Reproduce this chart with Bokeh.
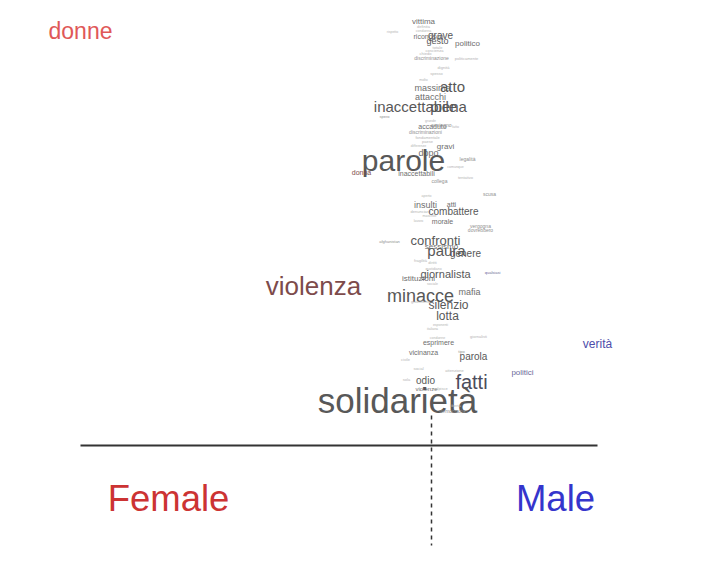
from bokeh.plotting import figure
from bokeh.models import ColumnDataSource, Range1d
from bokeh.core.properties import value
from bokeh.embed import file_html
from bokeh.resources import INLINE

# word, gender score (x), frequency position (y), font size (px), tone
words = ["vittima", "definita", "condanna", "rispetto", "riconosco", "grave", "gesto", "totale",
         "politico", "coscienza", "chiedo", "discriminazione", "politicamente", "dignità", "spesso",
         "molto", "massima", "atto", "attacchi", "inaccettabile", "piena", "spero", "grande",
         "accaduto", "sostegno", "discriminazioni", "fatto", "fondamentale", "paese", "differenze",
         "gravi", "dopo", "parole", "legalità", "comunque", "donna", "inaccettabili", "collega",
         "tentativo", "aperto", "scusa", "insulti", "atti", "denunciare", "combattere", "maschile",
         "lavoro", "morale", "vergogna", "dovrebbero", "confronti", "afghanistan", "sessismo",
         "paura", "genere", "fragilità", "diritti", "quotidiano", "giornalista", "qualsiasi",
         "istituzioni", "sociale", "mafia", "minacce", "gravissime", "silenzio", "lotta",
         "esponenti", "italiana", "giornalisti", "condanne", "esprimere", "vicinanza", "tipo",
         "parola", "civile", "social", "attenzione", "politici", "sola", "odio", "fatti",
         "violenze", "colpisce", "solidarietà", "democrazia", "libertà", "violenza", "verità",
         "donne"]
x_score = [-0.08, -0.08, -0.08, -0.39, -0.03, 0.09, 0.06, 0.06,
           0.36, 0.03, -0.06, 0.00, 0.35, 0.12, 0.05,
           -0.08, 0.01, 0.21, -0.01, -0.16, 0.17, -0.47, -0.01,
           0.01, 0.10, -0.06, 0.24, -0.04, -0.04, -0.13,
           0.14, -0.03, -0.28, 0.36, 0.24, -0.70, -0.15, 0.08,
           0.34, -0.05, 0.58, -0.06, 0.20, -0.11, 0.22, -0.02,
           -0.13, 0.11, 0.49, 0.49, 0.04, -0.42, 0.10,
           0.15, 0.34, -0.11, 0.01, 0.02, 0.14, 0.61,
           -0.13, 0.01, 0.38, -0.11, -0.11, 0.17, 0.16,
           0.09, 0.01, 0.47, 0.06, 0.07, -0.08, 0.30,
           0.42, -0.26, -0.13, 0.23, 0.91, -0.25, -0.06, 0.40,
           -0.05, 0.09, -0.34, 0.21, 0.24, -1.18, 1.66,
           -3.51]
y_freq = [4.24, 4.19, 4.15, 4.14, 4.09, 4.10, 4.05, 3.98,
          4.02, 3.95, 3.92, 3.88, 3.87, 3.78, 3.72,
          3.66, 3.58, 3.59, 3.49, 3.39, 3.39, 3.29, 3.25,
          3.19, 3.21, 3.14, 3.19, 3.08, 3.04, 3.00,
          2.99, 2.93, 2.85, 2.87, 2.79, 2.73, 2.72, 2.65,
          2.68, 2.50, 2.52, 2.41, 2.41, 2.34, 2.34, 2.30,
          2.25, 2.24, 2.20, 2.16, 2.05, 2.04, 1.99,
          1.95, 1.92, 1.85, 1.83, 1.77, 1.72, 1.73,
          1.67, 1.62, 1.54, 1.50, 1.44, 1.41, 1.30,
          1.21, 1.17, 1.09, 1.08, 1.03, 0.93, 0.94,
          0.89, 0.86, 0.77, 0.75, 0.73, 0.66, 0.65, 0.64,
          0.57, 0.57, 0.45, 0.35, 0.40, 1.60, 1.02,
          4.15]
size_px = [8, 4, 3.5, 3.5, 7, 10, 9, 4,
           8, 4, 4, 5, 4, 4, 4,
           3.5, 9, 15, 9, 15, 15, 4, 3.5,
           7, 5, 5, 3.5, 4, 4, 3.5,
           8, 9, 30, 5, 3.5, 7, 7, 5,
           4, 3.5, 5, 9, 7, 4, 10, 3.5,
           3.5, 7, 5, 5, 13, 4, 8,
           15, 10, 4, 4, 3.5, 11, 4,
           8, 3.5, 9, 18, 4, 12, 12,
           3.5, 3.5, 4, 3.5, 7, 7, 4,
           10, 4, 4, 4, 8, 4, 10, 20,
           6, 4, 35, 5, 4, 26, 12,
           23]
tone = ["mid", "faint", "faint", "faint", "mid", "dark", "dark", "faint",
        "mid", "faint", "faint", "light", "faint", "faint", "faint",
        "faint", "mid", "dark", "mid", "dark", "dark", "light", "faint",
        "mid", "light", "light", "faint", "faint", "faint", "faint",
        "mid", "mid", "dark", "light", "faint", "fem", "mid", "light",
        "faint", "faint", "light", "mid", "mid", "faint", "dark", "faint",
        "faint", "mid", "light", "light", "dark", "light", "mid",
        "dark", "dark", "faint", "faint", "faint", "dark", "male",
        "mid", "faint", "mid", "dark", "faint", "dark", "dark",
        "faint", "faint", "faint", "faint", "mid", "mid", "light",
        "dark", "faint", "faint", "faint", "male", "faint", "dark", "darkm",
        "mid", "faint", "dark", "light", "faint", "fem", "male2",
        "fem2"]
palette = {"dark": "#585858", "mid": "#6e6e6e", "light": "#909090", "faint": "#b4b4b4",
           "fem": "#7d4b4b", "fem2": "#e05858", "male": "#6a6a98", "male2": "#4d4daa",
           "darkm": "#4c4c5c"}

axis_labels = ["Female", "Male"]
axis_label_x = [-2.63, 1.24]
axis_label_y = [-0.53, -0.53]
axis_label_colors = ["#cc3333", "#3535cc"]

src = ColumnDataSource(dict(
    x=x_score, y=y_freq, text=words,
    size=[f"{s}px" for s in size_px],
    color=[palette[t] for t in tone],
))

p = figure(width=696, height=549, x_range=Range1d(-4.31, 2.65), y_range=Range1d(-1.04, 4.45),
           x_axis_type=None, y_axis_type=None, toolbar_location=None, output_backend="svg",
           min_border=0, outline_line_color=None, background_fill_color="white")
p.grid.visible = False

p.segment(x0=[-3.51], y0=[0], x1=[1.66], y1=[0], line_color="#333333", line_width=2)
p.segment(x0=[0], y0=[0.30], x1=[0], y1=[-1.0], line_color="#333333", line_width=1.5,
          line_dash="4 4")

p.text(x="x", y="y", text="text", source=src, text_font_size="size", text_color="color",
       text_align="center", text_baseline="middle", text_font=value("Liberation Sans"))

p.text(x=axis_label_x, y=axis_label_y, text=axis_labels, text_color=axis_label_colors,
       text_font_size="36.5px", text_align="center", text_baseline="middle",
       text_font=value("Liberation Sans"))

open("out.html", "w").write(file_html(p, INLINE))
